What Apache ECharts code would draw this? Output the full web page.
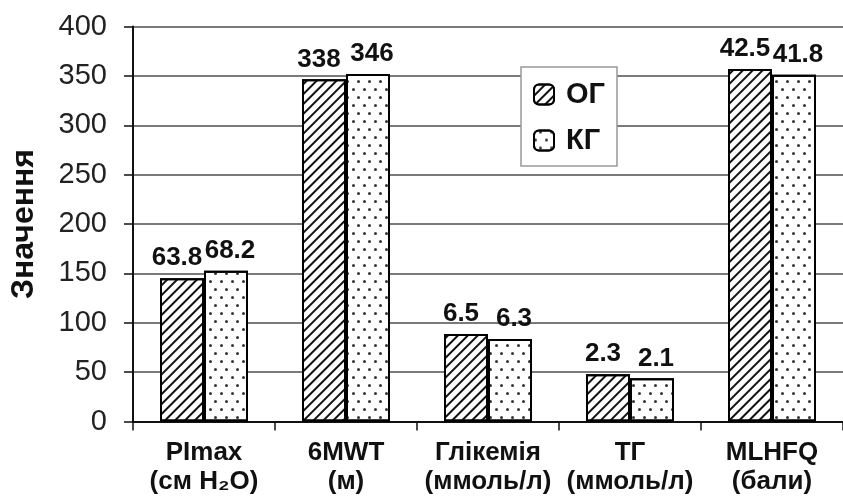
<!DOCTYPE html>
<html>
<head>
<meta charset="utf-8">
<script src="https://cdn.jsdelivr.net/npm/echarts@6/dist/echarts.min.js"></script>
<style>html,body{margin:0;padding:0;background:#fff;}#c{width:843px;height:504px;}</style>
</head>
<body>
<div id="c"></div>
<script>
const categories = ['PImax\n(см H₂O)', '6MWT\n(м)', 'Глікемія\n(ммоль/л)', 'ТГ\n(ммоль/л)', 'MLHFQ\n(бали)'];
const seriesNames = ['ОГ', 'КГ'];
// bar heights as drawn on the axis
const valuesOG = [145, 346.5, 88.6, 47.8, 357];
const valuesKG = [152.7, 352, 83.5, 43.7, 351.2];
// labels printed above bars
const labelsOG = ['63.8', '338', '6.5', '2.3', '42.5'];
const labelsKG = ['68.2', '346', '6.3', '2.1', '41.8'];
const yTicks = [0, 50, 100, 150, 200, 250, 300, 350, 400];

const FONT = '"Liberation Sans", Arial, sans-serif';

const chart = echarts.init(document.getElementById('c'), null, {renderer: 'canvas'});

function mkLabel(texts, dx) {
  return {
    show: true, position: 'top', distance: 7, offset: [dx, 0],
    formatter: p => texts[p.dataIndex],
    fontFamily: FONT, fontWeight: 'bold', fontSize: 26, color: '#111'
  };
}

chart.setOption({
  animation: false,
  backgroundColor: '#fff',
  grid: {left: 133, top: 26.5, width: 716.5, height: 395, containLabel: false},
  legend: {
    data: seriesNames,
    orient: 'vertical',
    left: 521, top: 67,
    padding: [13, 12, 11, 12],
    itemWidth: 20, itemHeight: 20, itemGap: 17,
    borderColor: '#999', borderWidth: 1.5,
    backgroundColor: '#fff',
    textStyle: {fontFamily: FONT, fontWeight: 'bold', fontSize: 29, color: '#111', padding: [0, 0, 0, 7]},
    itemStyle: {borderColor: '#000', borderWidth: 2}
  },
  xAxis: {
    type: 'category',
    data: categories,
    axisLine: {lineStyle: {color: '#111', width: 2}},
    axisTick: {show: true, length: 9, lineStyle: {color: '#111', width: 1.5}},
    axisLabel: {fontFamily: FONT, fontWeight: 'bold', fontSize: 26, lineHeight: 29, color: '#111', margin: 17, interval: 0}
  },
  yAxis: {
    type: 'value', min: 0, max: 400, interval: 50,
    name: 'Значення', nameLocation: 'middle', nameGap: 93, nameRotate: 90,
    nameTextStyle: {fontFamily: FONT, fontWeight: 'bold', fontSize: 32, color: '#111'},
    axisLine: {show: true, lineStyle: {color: '#111', width: 2}},
    axisTick: {show: true, length: 9, lineStyle: {color: '#111', width: 1.5}},
    axisLabel: {fontFamily: FONT, fontSize: 29, color: '#222', margin: 26,
      formatter: v => yTicks.indexOf(v) >= 0 ? String(v) : ''},
    splitLine: {lineStyle: {color: '#7a7a7a', width: 2}}
  },
  series: [
    {
      name: seriesNames[0], type: 'bar', data: valuesOG,
      barWidth: 44, barGap: '0%',
      itemStyle: {
        color: '#fff', borderColor: '#000', borderWidth: 2,
        decal: {symbol: 'rect', symbolSize: 1, dashArrayX: [1, 0], dashArrayY: [2, 4.5], rotation: -Math.PI / 4, color: '#111'}
      },
      label: mkLabel(labelsOG, -5)
    },
    {
      name: seriesNames[1], type: 'bar', data: valuesKG,
      barWidth: 44,
      itemStyle: {
        color: '#fff', borderColor: '#000', borderWidth: 2,
        decal: {symbol: 'circle', symbolSize: 1, dashArrayX: [[2.5, 7.5], [0, 5, 2.5, 2.5]], dashArrayY: [2.5, 5], rotation: 0, color: '#333'}
      },
      label: mkLabel(labelsKG, 4)
    }
  ]
});
</script>
</body>
</html>
